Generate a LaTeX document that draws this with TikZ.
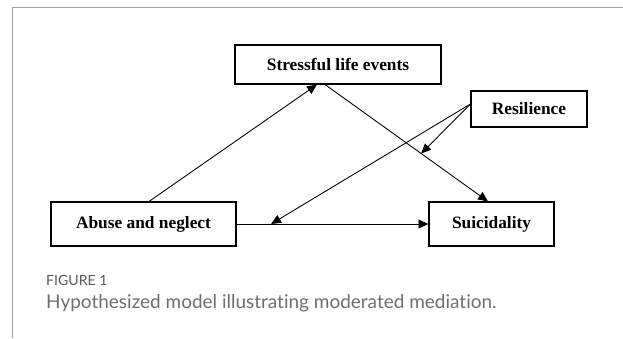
\documentclass[tikz,border=0pt]{standalone}
\usepackage{fontspec}
\setmainfont{Liberation Serif}
\newfontfamily\capfont[Ligatures=NoCommon]{Lato}
\usetikzlibrary{arrows.meta,calc}

\definecolor{framegray}{RGB}{160,160,160}
\definecolor{capgray}{RGB}{110,110,110}
\definecolor{labelgray}{RGB}{90,90,90}

\tikzset{
    varbox/.style = {draw, line width=0.9pt, inner sep=0pt,
        font=\fontsize{14.8}{17}\selectfont\bfseries},
    path arrow/.style = {line width=0.75pt,
        -{Triangle[length=8.5pt, width=7.5pt]}},
}

\begin{document}
\begin{tikzpicture}[x=0.03cm, y=-0.03cm]
    \useasboundingbox (0,0) rectangle (623,338);

    % Page frame (left and top rules)
    \draw [framegray, line width=0.8pt] (12,338) -- (12,7) -- (623,7);

    % Variables of the model
    \node [varbox, minimum width=6.18cm, minimum height=1.17cm] (stress) at (338,64.5) {Stressful life events};
    \node [varbox, minimum width=3.48cm, minimum height=1.08cm] (resil) at (529,109) {Resilience};
    \node [varbox, minimum width=5.55cm, minimum height=1.32cm] (abuse) at (143.5,224) {Abuse and neglect};
    \node [varbox, minimum width=3.75cm, minimum height=1.32cm] (suic) at (491.5,224) {Suicidality};

    % Paths a, b and c'
    \draw [path arrow] ($(abuse.north)+(5.5,0)$) -- ($(stress.south)+(-21,0)$);
    \draw [path arrow] ($(stress.south)+(-13,0)$) -- coordinate [pos=0.59] (modb) ($(suic.north)+(-3.5,0)$);
    \draw [path arrow] (abuse.east) -- coordinate [pos=0.18] (modc) (suic.west);

    % Moderation by resilience
    \coordinate (resout) at ($(resil.west)+(0,-5)$);
    \draw [path arrow] (resout) -- (modb);
    \draw [path arrow] (resout) -- (modc);

    % Caption
    \node [anchor=base west, inner sep=0pt, text=labelgray, font=\capfont\fontsize{12}{14}\selectfont] (figlabel) at (46,285) {FIGURE 1};
    \node [anchor=base west, inner sep=0pt, text=capgray, font=\capfont\fontsize{16.2}{19}\selectfont] (figcaption) at (46,308) {Hypothesized model illustrating moderated mediation.};
\end{tikzpicture}
\end{document}
